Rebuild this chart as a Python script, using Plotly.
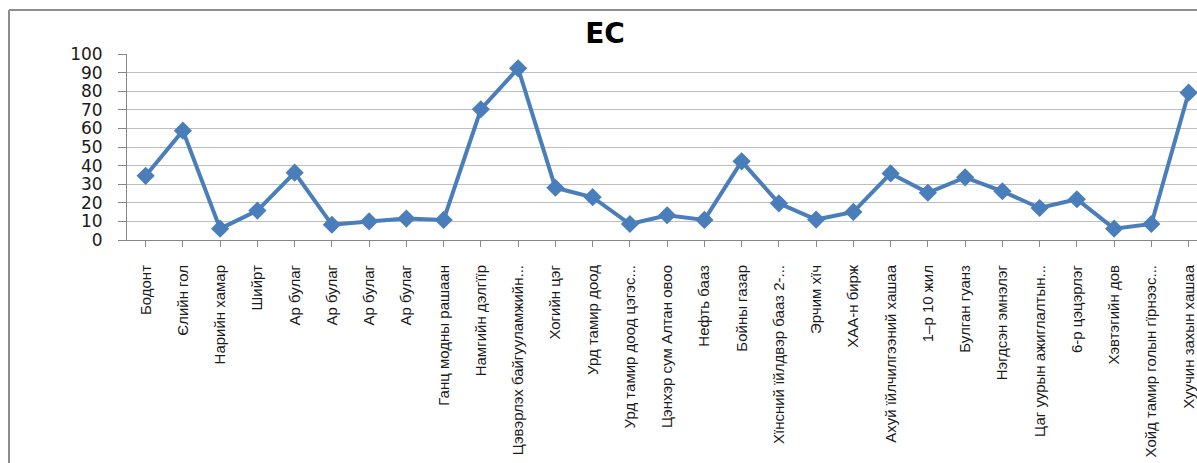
import plotly.graph_objects as go

# Sampling sites along the x axis
sites = [
    "Бодонт", "Єлийн гол", "Нарийн хамар", "Шийрт",
    "Ар булаг", "Ар булаг", "Ар булаг", "Ар булаг",
    "Ганц модны рашаан", "Намгийн дэлгїїр", "Цэвэрлэх байгууламжийн...",
    "Хогийн цэг", "Урд тамир доод", "Урд тамир доод цэгэс...",
    "Цэнхэр сум Алтан овоо", "Нефть бааз", "Бойны газар",
    "Хїнсний їйлдвэр бааз 2-...", "Эрчим хїч", "ХАА-н бирж",
    "Ахуй їйлчилгээний хашаа", "1–р 10 жил", "Булган гуанз",
    "Нэгдсэн эмнэлэг", "Цаг уурын ажиглалтын...", "6-р цэцэрлэг",
    "Хэвтэгийн дов", "Хойд тамир голын гїрнээс...", "Хуучин захын хашаа",
]

# EC reading at each site
ec_values = [
    34.5, 58.8, 6.1, 15.8, 36.2, 8.2, 10.0, 11.5,
    10.8, 70.3, 92.3, 28.1, 23.0, 8.6, 13.3, 10.8,
    42.3, 19.7, 11.0, 15.1, 35.8, 25.4, 33.7, 26.2,
    17.2, 21.9, 6.1, 8.6, 79.2,
]

y_ticks = [0, 10, 20, 30, 40, 50, 60, 70, 80, 90, 100]

W, H = 1197, 463
L, R, T, B = 127, 0, 54, 223
BLUE = "#4A7EBB"

x_idx = list(range(len(sites)))

fig = go.Figure()
fig.add_trace(go.Scatter(
    x=x_idx,
    y=ec_values,
    mode="lines+markers",
    line=dict(color=BLUE, width=4),
    marker=dict(symbol="diamond", size=14, color=BLUE),
    cliponaxis=False,
    showlegend=False,
))

# The plot area runs a little past the right edge of the page
plot_w = W - L - R
unit = 37.25
x_max = -0.5 + plot_w / unit


def px_to_paper_x(px):
    return (px - L) / plot_w


def px_to_paper_y(py):
    return (H - B - py) / (H - T - B)


border = dict(color="#8C8C8C", width=2)
fig.add_shape(type="line", xref="paper", yref="paper",
              x0=px_to_paper_x(9), x1=px_to_paper_x(1300),
              y0=px_to_paper_y(10), y1=px_to_paper_y(10), line=border)
fig.add_shape(type="line", xref="paper", yref="paper",
              x0=px_to_paper_x(9), x1=px_to_paper_x(9),
              y0=px_to_paper_y(10), y1=px_to_paper_y(480), line=border)

fig.update_layout(
    width=W,
    height=H,
    margin=dict(l=L, r=R, t=T, b=B, pad=0),
    paper_bgcolor="white",
    plot_bgcolor="white",
    title=dict(
        text="<b>EC</b>",
        x=605 / W,
        xref="container",
        xanchor="center",
        y=1 - 33 / H,
        yref="container",
        yanchor="middle",
        font=dict(family="DejaVu Sans, Verdana, sans-serif", size=28, color="#000000"),
    ),
    xaxis=dict(
        range=[-0.5, x_max],
        automargin=False,
        tickmode="array",
        tickvals=x_idx,
        ticktext=sites,
        tickangle=-90,
        ticks="outside",
        ticklen=6,
        tickcolor="#868686",
        tickson="boundaries",
        ticklabelstandoff=12,
        showline=True,
        linecolor="#868686",
        linewidth=1,
        showgrid=False,
        zeroline=False,
        tickfont=dict(family="Liberation Sans, Arial, sans-serif", size=15, color="#1A1A1A"),
    ),
    yaxis=dict(
        range=[0, 100],
        automargin=False,
        tickmode="array",
        tickvals=y_ticks,
        ticktext=[str(v) for v in y_ticks],
        ticks="outside",
        ticklen=8,
        tickcolor="#868686",
        ticklabelstandoff=12,
        showline=True,
        linecolor="#868686",
        linewidth=1,
        showgrid=True,
        gridcolor="#BEBEBE",
        gridwidth=1,
        zeroline=False,
        tickfont=dict(family="DejaVu Sans, Verdana, sans-serif", size=17, color="#1A1A1A"),
    ),
)

fig.write_html("out.html")
